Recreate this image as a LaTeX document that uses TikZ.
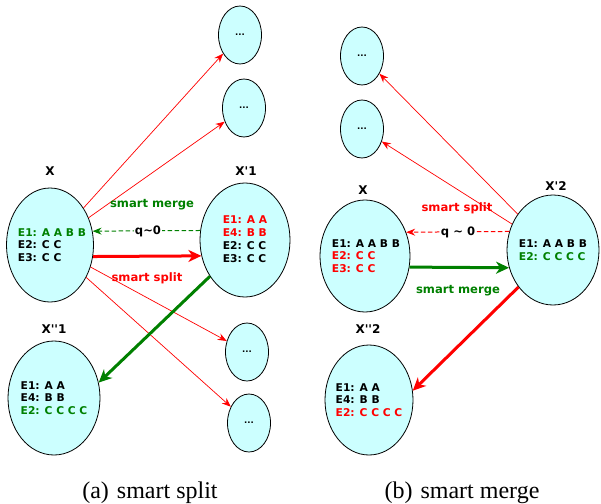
\documentclass[tikz,border=0pt]{standalone}
\usepackage{fontspec}
\newfontfamily\dv{DejaVu Sans}[Ligatures=TeXOff]
\newfontfamily\capfont{Liberation Serif}
\usetikzlibrary{shapes.geometric,arrows.meta}
\definecolor{cellfill}{HTML}{CCFFFF}
\definecolor{mgreen}{HTML}{008000}
\definecolor{mred}{HTML}{FF0000}
\begin{document}
\begin{tikzpicture}[x=1pt,y=-1pt,
  blob/.style={ellipse,draw=black,line width=0.8pt,fill=cellfill,inner sep=0pt},
  dots/.style={blob,minimum width=43pt,minimum height=58pt,
    font=\dv\bfseries\fontsize{8.5}{9}\selectfont},
  celltext/.style={align=left,inner sep=0pt,
    font=\dv\bfseries\fontsize{10.7}{12.8}\selectfont},
  lbl/.style={font=\dv\bfseries\fontsize{12}{13}\selectfont},
  edgelbl/.style={font=\dv\bfseries\fontsize{11.6}{13}\selectfont},
  thinred/.style={draw=mred,line width=0.7pt,
    -{Stealth[length=9pt,width=7pt,inset=3pt]}},
  thickarrow/.style={line width=3pt,
    -{Stealth[length=13pt,width=12pt,inset=4pt]}},
  dasharrow/.style={line width=1pt,dash pattern=on 4.5pt off 2.5pt,
    -{Stealth[length=9pt,width=7pt,inset=3pt]}},
  caption/.style={font=\capfont\fontsize{24}{26}\selectfont,anchor=base}
]
\useasboundingbox (0,0) rectangle (601,503);

% ---------- (a) smart split ----------
\node[blob,minimum width=87pt,minimum height=114pt] (Xa) at (50,245) {};
\node[blob,minimum width=90pt,minimum height=114pt] (Xp1) at (245,240) {};
\node[blob,minimum width=92pt,minimum height=114pt] (Xpp1) at (54,398) {};
\node[dots] (a1) at (240,35) {...};
\node[dots] (a2) at (244,108) {...};
\node[dots] (a3) at (247,352) {...};
\node[dots] (a4) at (249,423) {...};

\node[celltext] (Xat) at ([xshift=2pt]Xa.center) {{\color{mgreen}E1: A A B B}\\E2: C C\\E3: C C};
\node[celltext] (Xp1t) at ([yshift=1pt]Xp1.center) {{\color{mred}E1: A A}\\{\color{mred}E4: B B}\\E2: C C\\E3: C C};
\node[celltext] (Xpp1t) at (Xpp1.center) {E1: A A\\E4: B B\\{\color{mgreen}E2: C C C C}};

\node[lbl] (Xal) at (50,171) {X};
\node[lbl] (Xp1l) at (246,171) {X'1};
\node[lbl] (Xpp1l) at (54,329) {X''1};

\draw[thinred] (Xa) -- (a1);
\draw[thinred] (Xa) -- (a2);
\draw[thinred] (Xa) -- (a3);
\draw[thinred] (Xa) -- (a4);

\draw[thickarrow,draw=mred] (Xa.-15) -- (Xp1.-160);
\draw[dasharrow,draw=mgreen] (Xp1.168.5) -- (Xa.18.6);
\draw[thickarrow,draw=mgreen] (Xp1.-134) -- (Xpp1.19);

\node[edgelbl,text=mgreen] (ma) at (152,205) {smart merge};
\node[edgelbl,fill=white,inner sep=1pt] (qa) at (148,231) {q\textasciitilde0};
\node[edgelbl,text=mred] (sa) at (147,278) {smart split};

% ---------- (b) smart merge ----------
\node[blob,minimum width=90pt,minimum height=112pt] (Xb) at (365,256) {};
\node[blob,minimum width=92pt,minimum height=110pt] (Xp2) at (553,250) {};
\node[blob,minimum width=88pt,minimum height=110pt] (Xpp2) at (369,400) {};
\node[dots] (b1) at (362,56) {...};
\node[dots] (b2) at (362,129) {...};

\node[celltext] (Xbt) at ([xshift=1pt]Xb.center) {E1: A A B B\\{\color{mred}E2: C C}\\{\color{mred}E3: C C}};
\node[celltext] (Xp2t) at (Xp2.center) {E1: A A B B\\{\color{mgreen}E2: C C C C}};
\node[celltext] (Xpp2t) at (Xpp2.center) {E1: A A\\E4: B B\\{\color{mred}E2: C C C C}};

\node[lbl] (Xbl) at (363,190) {X};
\node[lbl] (Xp2l) at (556,186) {X'2};
\node[lbl] (Xpp2l) at (368,329) {X''2};

\node[edgelbl,text=mred] (sb) at (457,208) {smart split};
\draw[thinred] (Xp2) -- (b1);
\draw[thinred] (Xp2) -- (b2);

\draw[dasharrow,draw=mred] (Xp2.157.5) -- (Xb.30.5);
\draw[thickarrow,draw=mgreen] (Xb.-14) -- (Xp2.-158.7);
\draw[thickarrow,draw=mred] (Xp2.-133.4) -- (Xpp2.12.8);

\node[edgelbl,fill=white,inner sep=1pt] (qb) at (458,232) {q \textasciitilde{} 0};
\node[edgelbl,text=mgreen] (mb) at (458,291) {smart merge};

% ---------- captions ----------
\node[caption] (capa) at (150,498) {(a)\,\,smart split};
\node[caption] (capb) at (462,498) {(b)\,\,smart merge};
\end{tikzpicture}
\end{document}
